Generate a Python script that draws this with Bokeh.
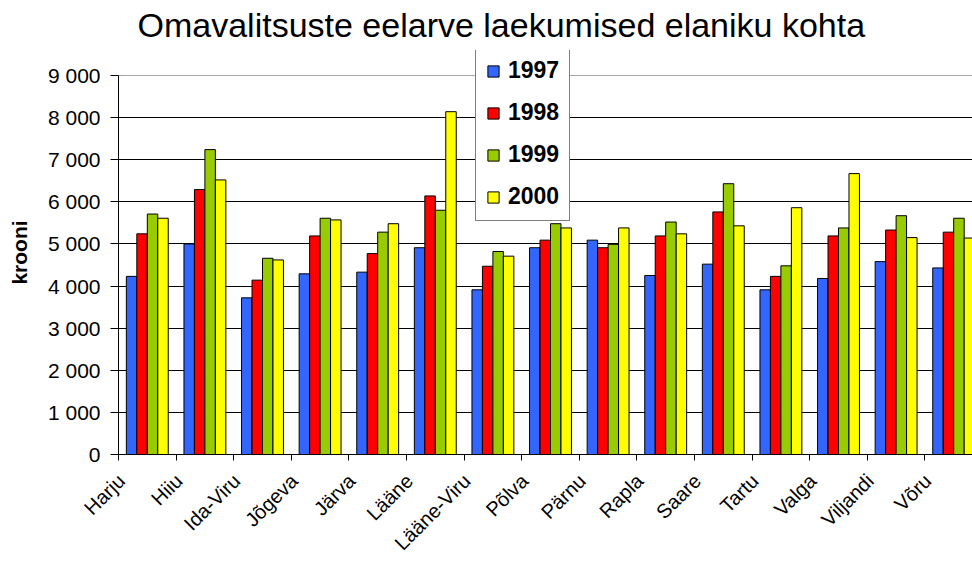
import numpy as np
from bokeh.plotting import figure
from bokeh.models import (Range1d, FixedTicker, Legend, LegendItem, Span,
                          ColumnDataSource)
from bokeh.embed import file_html
from bokeh.resources import INLINE

categories = ["Harju", "Hiiu", "Ida-Viru", "Jõgeva", "Järva", "Lääne",
              "Lääne-Viru", "Põlva", "Pärnu", "Rapla", "Saare", "Tartu",
              "Valga", "Viljandi", "Võru"]
years = ["1997", "1998", "1999", "2000"]
v1997 = [4230, 5000, 3720, 4290, 4330, 4910, 3910, 4910, 5090, 4250, 4520, 3910, 4180, 4580, 4430]
v1998 = [5240, 6290, 4140, 5190, 4770, 6140, 4470, 5090, 4910, 5190, 5760, 4230, 5190, 5330, 5280]
v1999 = [5710, 7240, 4660, 5610, 5280, 5800, 4820, 5480, 4990, 5520, 6430, 4480, 5380, 5670, 5610]
v2000 = [5610, 6520, 4620, 5570, 5480, 8140, 4710, 5380, 5380, 5240, 5430, 5860, 6670, 5150, 5140]
colors = ["#3366FF", "#FF0000", "#99CC00", "#FFFF00"]
ytick_values = [0, 1000, 2000, 3000, 4000, 5000, 6000, 7000, 8000, 9000]
ytick_labels = ["0", "1 000", "2 000", "3 000", "4 000", "5 000", "6 000",
                "7 000", "8 000", "9 000"]

FONT = "Liberation Sans"

# layout (pixels)
W = 972
H = 564
LEFT = 118
FRAME_TOP = 50
FRAME_BOTTOM = 454
PX_PER_1000 = 42.15
PX_PER_CAT = 57.6
y_top = ytick_values[-1] + (75 - FRAME_TOP) / PX_PER_1000 * 1000
x_end = (W - LEFT) / PX_PER_CAT

p = figure(width=W, height=H, output_backend="svg", toolbar_location=None,
           x_range=Range1d(0, x_end), y_range=Range1d(0, y_top),
           min_border_left=LEFT, min_border_right=0, min_border_top=FRAME_TOP,
           min_border_bottom=H - FRAME_BOTTOM)
p.background_fill_color = "white"
p.border_fill_color = "white"
p.outline_line_color = None

p.title.text = "Omavalitsuste eelarve laekumised elaniku kohta"
p.title.text_font = FONT
p.title.text_font_size = "34px"
p.title.text_font_style = "normal"
p.title.text_color = "black"
p.title.align = "left"
p.title.vertical_align = "top"
p.title.offset = 19
p.title.standoff = 10

series = [v1997, v1998, v1999, v2000]
bar_w = 1 / 5.5
centers = np.arange(len(categories)) + 0.5
items = []
for k, (yr, vals, col) in enumerate(zip(years, series, colors)):
    off = (k - 1.5) * bar_w
    src = ColumnDataSource(dict(x=centers + off, top=vals))
    r = p.vbar(x="x", top="top", bottom=0, width=bar_w, source=src,
               fill_color=col, line_color="black", line_width=1)
    items.append(LegendItem(label=yr, renderers=[r]))

# x axis: labels end slightly left of the category centre (as in the original)
label_pos = centers - 0.45
xax = p.xaxis[0]
xax.ticker = FixedTicker(ticks=list(label_pos), minor_ticks=list(range(len(categories) + 1)))
xax.major_label_overrides = {float(c): n for c, n in zip(label_pos, categories)}
xax.major_tick_line_color = None
xax.major_tick_out = 0
xax.major_tick_in = 0
xax.minor_tick_line_color = "black"
xax.minor_tick_out = 6
xax.minor_tick_in = 0
xax.major_label_orientation = np.pi / 4
xax.major_label_text_font = FONT
xax.major_label_text_font_size = "20px"
xax.major_label_text_color = "black"
xax.axis_line_color = "black"
xax.major_label_standoff = 17

# y axis
yax = p.yaxis[0]
yax.ticker = FixedTicker(ticks=ytick_values, minor_ticks=[])
yax.bounds = (ytick_values[0], ytick_values[-1])
yax.major_label_overrides = {v: l for v, l in zip(ytick_values, ytick_labels)}
yax.major_tick_out = 8
yax.major_tick_in = 4
yax.major_tick_line_color = "black"
yax.minor_tick_line_color = None
yax.axis_line_color = "black"
yax.major_label_text_font = FONT
yax.major_label_text_font_size = "21px"
yax.major_label_text_color = "black"
yax.major_label_standoff = 10
yax.axis_label = "krooni"
yax.axis_label_text_font = FONT
yax.axis_label_text_font_size = "21px"
yax.axis_label_text_font_style = "bold"
yax.axis_label_text_color = "black"
yax.axis_label_standoff = 14

p.xgrid.grid_line_color = None
p.ygrid.ticker = FixedTicker(ticks=ytick_values[1:-1])
p.ygrid.grid_line_color = "black"
p.ygrid.grid_line_width = 1

p.add_layout(Span(location=ytick_values[-1], dimension="width",
                  line_color="#a6a6a6", line_width=1))

legend = Legend(items=items, location=(357, 233), orientation="vertical",
                border_line_color="black", border_line_width=1,
                background_fill_color="white", background_fill_alpha=1,
                label_text_font=FONT, label_text_font_size="23px",
                label_text_font_style="bold", label_text_color="black",
                glyph_width=14, glyph_height=14, label_height=26,
                label_standoff=8, spacing=15, padding=10, margin=0)
p.add_layout(legend)

open("out.html", "w").write(file_html(p, INLINE))
